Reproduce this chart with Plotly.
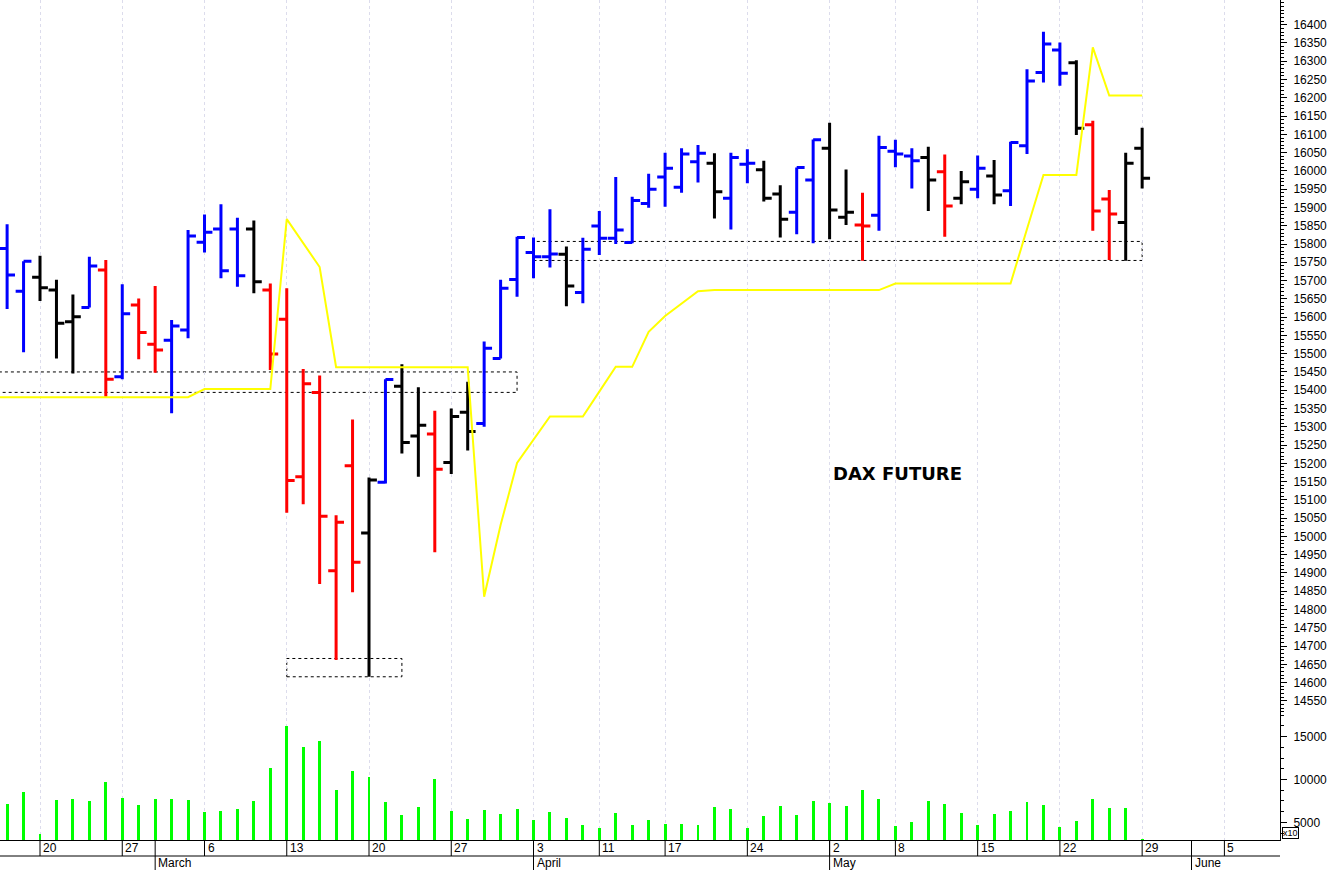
import plotly.graph_objects as go

# ---------------- data (trading-day index, 0 = Mon 20 Feb) ----------------
bar_idx = list(range(-2, 68))
opens = [15788, 15671, 15709, 15674, 15587, 15626, 15729, 15437, 15633, 15526,
         15537, 15565, 15805, 15841, 15841, 15841, 15674, 15594, 15163, 15394,
         14906, 15193, 15009, 15148, 15411, 15275, 15280, 15202, 15340, 15309,
         15487, 15703, 15777, 15765, 15772, 15667, 15849, 15816, 15804, 15911,
         15983, 15955, 16025, 16021, 15925, 16018, 16003, 15937, 15887, 15975,
         16062, 15873, 15852, 15879, 16054, 16041, 16037, 15998, 15925, 15950,
         15986, 15946, 16069, 16269, 16331, 16296, 16126, 15923, 15859, 16062]
highs = [15854, 15753, 15768, 15702, 15662, 15765, 15756, 15690, 15651, 15685,
         15592, 15838, 15881, 15909, 15872, 15864, 15692, 15679, 15458, 15440,
         15058, 15320, 15161, 15430, 15471, 15408, 15344, 15350, 15423, 15533,
         15702, 15820, 15818, 15895, 15793, 15817, 15890, 15983, 15929, 15992,
         16050, 16062, 16071, 16048, 16050, 16059, 16028, 15961, 16009, 16086,
         16132, 16004, 15940, 16096, 16085, 16062, 16066, 16045, 16000, 16042,
         16030, 16080, 16278, 16381, 16351, 16303, 16137, 15948, 16050, 16118]
lows = [15622, 15504, 15644, 15487, 15446, 15626, 15382, 15430, 15485, 15448,
        15337, 15542, 15777, 15706, 15683, 15665, 15455, 15065, 15088, 14870,
        14662, 14847, 14616, 15145, 15227, 15163, 14957, 15171, 15235, 15300,
        15487, 15656, 15706, 15736, 15630, 15638, 15770, 15800, 15802, 15899,
        15902, 15940, 15968, 15870, 15840, 15966, 15916, 15818, 15827, 15802,
        15813, 15852, 15754, 15836, 16010, 15952, 15890, 15820, 15909, 15925,
        15909, 15904, 16046, 16242, 16233, 16098, 15836, 15756, 15754, 15952]
closes = [15715, 15753, 15680, 15583, 15601, 15740, 15430, 15609, 15558, 15510,
          15576, 15822, 15832, 15727, 15713, 15697, 15499, 15153, 15418, 15055,
          15039, 14929, 15154, 15429, 15257, 15304, 15184, 15328, 15287, 15515,
          15679, 15818, 15765, 15773, 15685, 15786, 15816, 15838, 15919, 15950,
          16007, 16046, 16048, 15943, 16037, 16021, 15925, 15868, 16009, 16085,
          15893, 15887, 15849, 16064, 16046, 16028, 15975, 15904, 15970, 16007,
          15934, 16078, 16246, 16347, 16267, 16117, 15890, 15882, 16021, 15980]
# B = blue, R = red, K = black (bar colouring of the original chart)
bar_class = ["B", "B", "K", "K", "K", "B", "R", "B", "R", "R",
             "B", "B", "B", "B", "B", "K", "R", "R", "R", "R",
             "R", "R", "K", "B", "K", "K", "R", "K", "K", "B",
             "B", "B", "B", "B", "K", "B", "B", "B", "B", "B",
             "B", "B", "B", "K", "B", "B", "K", "K", "B", "B",
             "K", "K", "R", "B", "B", "B", "K", "R", "K", "B",
             "K", "B", "B", "B", "B", "K", "R", "R", "K", "K"]
volume = [7140, 8540, 3600, 7570, 7690, 7490, 9710, 7840, 7020, 7720,
          7720, 7570, 6200, 6320, 6550, 7450, 11310, 16280, 13830, 14500,
          8770, 10990, 10330, 7340, 5820, 6820, 10020, 6290, 5420, 6400,
          5970, 6590, 5270, 6170, 5500, 4650, 4370, 6050, 4690, 5270,
          4840, 4800, 4690, 6750, 6520, 4370, 5740, 6940, 5850, 7450,
          7290, 6900, 8770, 7720, 4570, 5000, 7450, 7100, 6050, 4650,
          5970, 6320, 7370, 6990, 4490, 5150, 7720, 6670, 6640, 3050]

yellow_idx = list(range(-3, 68))
yellow_vals = [15381, 15381, 15381, 15381, 15381, 15381, 15381, 15381, 15381, 15381,
               15381, 15381, 15381, 15403, 15403, 15403, 15403, 15403, 15868, 15803,
               15737, 15463, 15463, 15463, 15463, 15463, 15463, 15463, 15463, 15463,
               14835, 15031, 15201, 15264, 15328, 15328, 15328, 15396, 15464, 15464,
               15560, 15603, 15638, 15671, 15674, 15674, 15674, 15674, 15674, 15674,
               15674, 15674, 15674, 15674, 15674, 15692, 15692, 15692, 15692, 15692,
               15692, 15692, 15692, 15841, 15989, 15989, 15989, 16338, 16206, 16206,
               16206]

# dashed boxes: (start idx, end idx, low price, high price)
box_x0 = [-3, 15, 30]
box_x1 = [29, 22, 67]
box_lo = [15394, 14616, 15755]
box_hi = [15450, 14666, 15807]

week_idx = [0, 5, 10, 15, 20, 25, 30, 34, 38, 43, 48, 52, 57, 62, 67, 72]
week_labels = ["20", "27", "6", "13", "20", "27", "3", "11", "17", "24",
               "2", "8", "15", "22", "29", "5"]
month_idx = [7, 30, 48, 70]
month_labels = ["March", "April", "May", "June"]

price_ticks = list(range(14550, 16401, 50))
vol_ticks = [5000, 10000, 15000]
vol_minor = [3750, 6250, 7500, 8750, 11250, 12500, 13750, 16250, 17500]

colour_map = {"B": "#0000FF", "R": "#FF0000", "K": "#000000"}

# ---------------- figure ----------------
W, H = 1328, 870
ML, MR, MT, MB = 0, 48, 0, 30
plot_h = H - MT - MB
split = 128 / plot_h

fig = go.Figure()

for code, col in colour_map.items():
    sel = [k for k, c in enumerate(bar_class) if c == code]
    fig.add_trace(go.Ohlc(
        x=[bar_idx[k] for k in sel],
        open=[opens[k] for k in sel],
        high=[highs[k] for k in sel],
        low=[lows[k] for k in sel],
        close=[closes[k] for k in sel],
        increasing=dict(line=dict(color=col, width=3)),
        decreasing=dict(line=dict(color=col, width=3)),
        tickwidth=0.48,
        xaxis="x", yaxis="y",
        showlegend=False, hoverinfo="skip",
    ))

fig.add_trace(go.Bar(
    x=bar_idx, y=volume, width=0.18,
    marker=dict(color="#00FF00", line=dict(width=0)),
    xaxis="x", yaxis="y2", showlegend=False, hoverinfo="skip",
))

fig.add_trace(go.Scatter(
    x=yellow_idx, y=yellow_vals, mode="lines",
    line=dict(color="#FFFF00", width=2),
    xaxis="x", yaxis="y", showlegend=False, hoverinfo="skip",
))

shapes = []
for x0, x1, lo, hi in zip(box_x0, box_x1, box_lo, box_hi):
    shapes.append(dict(type="rect", xref="x", yref="y", x0=x0, x1=x1, y0=lo, y1=hi,
                       line=dict(color="black", width=1, dash="3px,3px"),
                       fillcolor="rgba(0,0,0,0)", layer="below"))

row1 = -16 / plot_h
row2 = -30 / plot_h
shapes.append(dict(type="line", xref="paper", yref="paper", x0=0, x1=1, y0=row1, y1=row1,
                   line=dict(color="black", width=1)))
for wi in week_idx:
    shapes.append(dict(type="line", xref="x", yref="paper", x0=wi, x1=wi, y0=0, y1=row1,
                       line=dict(color="black", width=1)))
for mi in month_idx:
    shapes.append(dict(type="line", xref="x", yref="paper", x0=mi, x1=mi, y0=0, y1=row2,
                       line=dict(color="black", width=1)))

annotations = []
lab_font = dict(family="Liberation Sans, Arial, sans-serif", size=12, color="black")
for wi, wl in zip(week_idx, week_labels):
    annotations.append(dict(x=wi, xref="x", y=-8 / plot_h, yref="paper", text=wl,
                            showarrow=False, xanchor="left", yanchor="middle",
                            xshift=1, font=lab_font))
for mi, ml in zip(month_idx, month_labels):
    annotations.append(dict(x=mi, xref="x", y=-23 / plot_h, yref="paper", text=ml,
                            showarrow=False, xanchor="left", yanchor="middle",
                            xshift=1, font=lab_font))
annotations.append(dict(x=897.5 / (W - ML - MR), xref="paper", y=(plot_h - 473) / plot_h,
                        yref="paper", text="<b>DAX FUTURE</b>", showarrow=False,
                        xanchor="center", yanchor="middle",
                        font=dict(family="DejaVu Sans, Verdana, sans-serif", size=18,
                                  color="black")))
annotations.append(dict(x=1, xref="paper", y=0, yref="paper", text="x10",
                        showarrow=False, xanchor="left", yanchor="bottom",
                        xshift=2, yshift=1, bordercolor="black", borderwidth=1,
                        borderpad=0,
                        font=dict(family="Liberation Sans, Arial, sans-serif", size=9,
                                  color="black")))

fig.update_layout(
    width=W, height=H,
    margin=dict(l=ML, r=MR, t=MT, b=MB, pad=0),
    paper_bgcolor="white", plot_bgcolor="white",
    showlegend=False, bargap=0,
    xaxis=dict(range=[-2.432, 75.38], anchor="y2", domain=[0, 1],
               showline=True, linecolor="black", linewidth=1,
               tickmode="array", tickvals=week_idx, showticklabels=False, ticks="",
               showgrid=True, gridcolor="#dcdcec", gridwidth=1, griddash="3px,3px",
               zeroline=False, rangeslider=dict(visible=False), fixedrange=True),
    yaxis=dict(domain=[split, 1], anchor="x", side="right",
               range=[14519.6, 16467.6],
               tickmode="array", tickvals=price_ticks,
               ticktext=[str(v) for v in price_ticks],
               ticks="outside", ticklen=6, tickcolor="black", tickwidth=1,
               ticklabelstandoff=4,
               minor=dict(dtick=10, tick0=0, ticks="outside", ticklen=3,
                          tickcolor="black", tickwidth=1, showgrid=False),
               showline=True, linecolor="black", linewidth=1,
               showgrid=False, zeroline=False, tickfont=lab_font),
    yaxis2=dict(domain=[0, split], anchor="x", side="right",
                range=[2933, 17883],
                tickmode="array", tickvals=vol_ticks,
                ticktext=[str(v) for v in vol_ticks],
                ticks="outside", ticklen=6, tickcolor="black", tickwidth=1,
                ticklabelstandoff=4,
                minor=dict(tickmode="array", tickvals=vol_minor, ticks="outside",
                           ticklen=3, tickcolor="black", tickwidth=1, showgrid=False),
                showline=True, linecolor="black", linewidth=1,
                showgrid=False, zeroline=False, tickfont=lab_font),
    shapes=shapes, annotations=annotations,
)

fig.write_html(
    "out.html",
    config={"displayModeBar": False, "staticPlot": True},
    post_script="document.body.style.margin='0';document.body.style.overflow='hidden';",
)
